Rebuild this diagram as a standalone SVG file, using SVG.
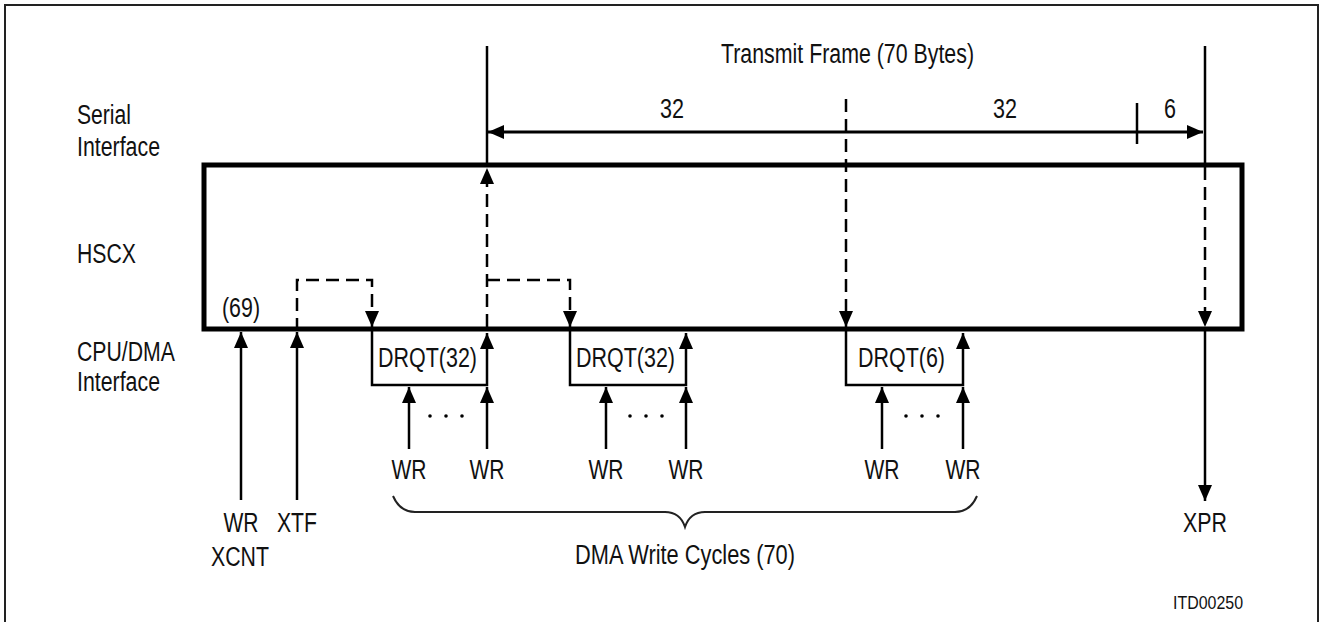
<svg xmlns="http://www.w3.org/2000/svg" width="1321" height="622" viewBox="0 0 1321 622">
<style>
text{font-family:"Liberation Sans",Arial,sans-serif;font-size:27px;fill:#111}
.m{text-anchor:middle}
.ln{fill:none;stroke:#000;stroke-width:2.5}
.d{stroke-dasharray:13 7}
.box{fill:none;stroke:#000;stroke-width:5}
.dot{fill:#000}
</style>
<defs>
<marker id="ah" markerUnits="userSpaceOnUse" markerWidth="16" markerHeight="14" refX="16" refY="7" orient="auto-start-reverse">
<path d="M0,0 L16,7 L0,14 z" fill="#000"/>
</marker>
</defs>
<rect x="5" y="5" width="1313" height="640" fill="#fff" stroke="#222" stroke-width="2"/>

<g id="labels">
<text x="721" y="63" textLength="253" lengthAdjust="spacingAndGlyphs">Transmit Frame (70 Bytes)</text>
<text class="m" x="672" y="118" textLength="24" lengthAdjust="spacingAndGlyphs">32</text>
<text class="m" x="1005" y="118" textLength="24" lengthAdjust="spacingAndGlyphs">32</text>
<text class="m" x="1170" y="118" textLength="12" lengthAdjust="spacingAndGlyphs">6</text>
<text x="77" y="124" textLength="54" lengthAdjust="spacingAndGlyphs">Serial</text>
<text x="77" y="156" textLength="83" lengthAdjust="spacingAndGlyphs">Interface</text>
<text x="77" y="263" textLength="59" lengthAdjust="spacingAndGlyphs">HSCX</text>
<text x="77" y="361" textLength="98" lengthAdjust="spacingAndGlyphs">CPU/DMA</text>
<text x="77" y="391" textLength="83" lengthAdjust="spacingAndGlyphs">Interface</text>
</g>

<g id="hscx">
<rect class="box" x="204" y="165" width="1038" height="164"/>
<text x="222" y="317" textLength="38" lengthAdjust="spacingAndGlyphs">(69)</text>
</g>

<g id="drqt1">
<text x="378" y="367" textLength="99" lengthAdjust="spacingAndGlyphs">DRQT(32)</text>
</g>
<g id="drqt2">
<text x="576" y="367" textLength="99" lengthAdjust="spacingAndGlyphs">DRQT(32)</text>
</g>
<g id="drqt3">
<text x="858" y="367" textLength="87" lengthAdjust="spacingAndGlyphs">DRQT(6)</text>
</g>

<g id="signals">
<text class="m" x="241" y="532" textLength="35" lengthAdjust="spacingAndGlyphs">WR</text>
<text class="m" x="240" y="566" textLength="58" lengthAdjust="spacingAndGlyphs">XCNT</text>
<text class="m" x="297" y="532" textLength="40" lengthAdjust="spacingAndGlyphs">XTF</text>
<text class="m" x="1205" y="532" textLength="44" lengthAdjust="spacingAndGlyphs">XPR</text>
<text class="m" x="409" y="479" textLength="35" lengthAdjust="spacingAndGlyphs">WR</text>
<text class="m" x="487" y="479" textLength="35" lengthAdjust="spacingAndGlyphs">WR</text>
<text class="m" x="606" y="479" textLength="35" lengthAdjust="spacingAndGlyphs">WR</text>
<text class="m" x="686" y="479" textLength="35" lengthAdjust="spacingAndGlyphs">WR</text>
<text class="m" x="882" y="479" textLength="35" lengthAdjust="spacingAndGlyphs">WR</text>
<text class="m" x="963" y="479" textLength="35" lengthAdjust="spacingAndGlyphs">WR</text>
<text x="575" y="564" textLength="220" lengthAdjust="spacingAndGlyphs">DMA Write Cycles (70)</text>
<text x="1173" y="609" style="font-size:19px" textLength="70" lengthAdjust="spacingAndGlyphs">ITD00250</text>
</g>

<g id="connectors">
<path class="ln" d="M487,46 L487,165"/>
<path class="ln" d="M1205,46 L1205,165"/>
<path class="ln" style="stroke-width:3" d="M488,132 L1203,132" marker-start="url(#ah)" marker-end="url(#ah)"/>
<path class="ln" d="M1137,103 L1137,144"/>
<path class="ln d" d="M487,327 L487,168" marker-end="url(#ah)"/>
<path class="ln d" d="M487,280 L570,280 L570,327" marker-end="url(#ah)"/>
<path class="ln d" d="M297,331 L297,280 L372,280 L372,327" marker-end="url(#ah)"/>
<path class="ln d" d="M846,99 L846,327" marker-end="url(#ah)"/>
<path class="ln d" d="M1205,167 L1205,327" marker-end="url(#ah)"/>
<path class="ln" d="M1205,331 L1205,501" marker-end="url(#ah)"/>
<path class="ln" d="M241,500 L241,332" marker-end="url(#ah)"/>
<path class="ln" d="M297,500 L297,332" marker-end="url(#ah)"/>
<path class="ln" d="M372,331 L372,385 L487,385 L487,333" marker-end="url(#ah)"/>
<path class="ln" d="M570,331 L570,385 L686,385 L686,333" marker-end="url(#ah)"/>
<path class="ln" d="M846,331 L846,385 L963,385 L963,333" marker-end="url(#ah)"/>
<path class="ln" d="M409,449 L409,387" marker-end="url(#ah)"/>
<path class="ln" d="M487,449 L487,387" marker-end="url(#ah)"/>
<path class="ln" d="M606,449 L606,387" marker-end="url(#ah)"/>
<path class="ln" d="M686,449 L686,387" marker-end="url(#ah)"/>
<path class="ln" d="M882,449 L882,387" marker-end="url(#ah)"/>
<path class="ln" d="M963,449 L963,387" marker-end="url(#ah)"/>
<circle class="dot" cx="430" cy="416" r="1.8"/><circle class="dot" cx="446" cy="416" r="1.8"/><circle class="dot" cx="462" cy="416" r="1.8"/>
<circle class="dot" cx="630" cy="416" r="1.8"/><circle class="dot" cx="646" cy="416" r="1.8"/><circle class="dot" cx="662" cy="416" r="1.8"/>
<circle class="dot" cx="906" cy="416" r="1.8"/><circle class="dot" cx="922" cy="416" r="1.8"/><circle class="dot" cx="938" cy="416" r="1.8"/>
<path fill="none" stroke="#222" stroke-width="2" d="M393,496 Q400,512 415,512 L665,512 Q680,512 685,527 Q690,512 705,512 L955,512 Q970,512 977,496"/>
</g>
</svg>
